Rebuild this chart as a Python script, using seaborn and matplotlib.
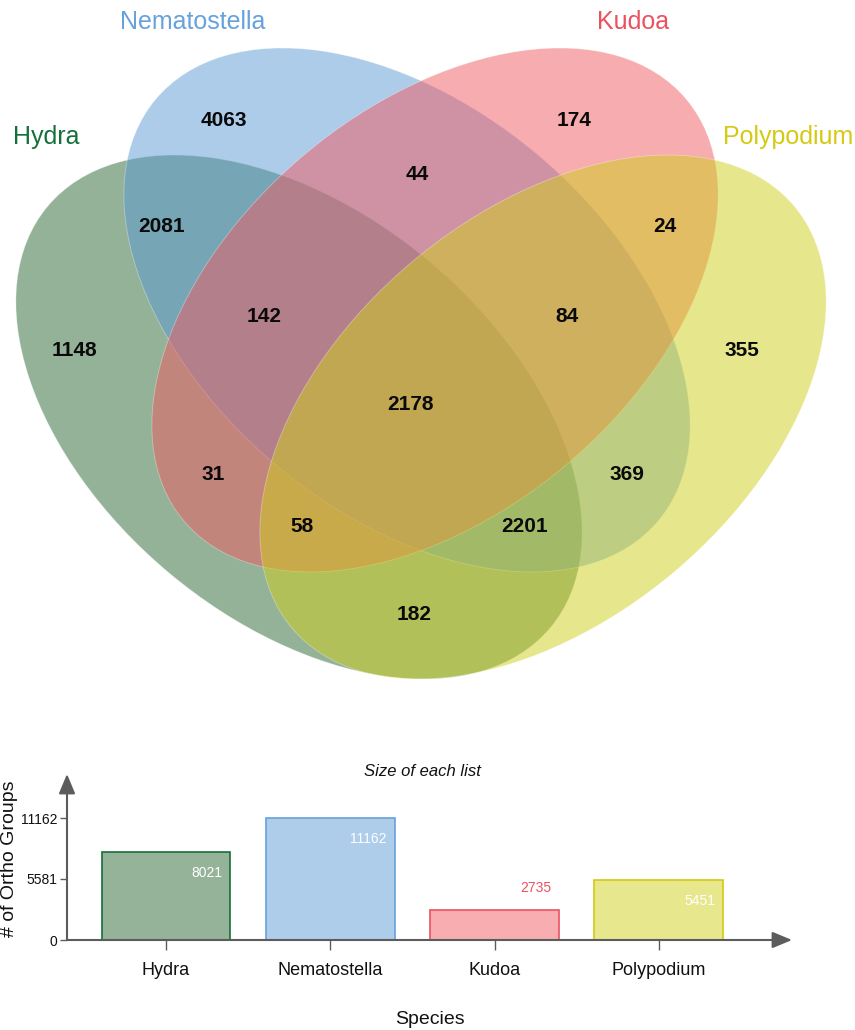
import numpy as np
import pandas as pd
import matplotlib
matplotlib.use("Agg")
import matplotlib.pyplot as plt
from matplotlib.patches import Ellipse
from matplotlib.colors import to_rgb
import seaborn as sns

# ---- data -------------------------------------------------------------
species = ["Hydra", "Nematostella", "Kudoa", "Polypodium"]
list_sizes = [8021, 11162, 2735, 5451]

# exclusive region counts, keyed by membership (H=Hydra, N=Nematostella, K=Kudoa, P=Polypodium)
region_keys = ["H", "N", "K", "P", "HN", "NK", "KP", "HK", "NP", "HP",
               "HNK", "NKP", "HKP", "HNP", "HNKP"]
region_counts = [1148, 4063, 174, 355, 2081, 44, 24, 31, 369, 182,
                 142, 84, 58, 2201, 2178]

y_ticks = [0, 5581, 11162]

# ---- style ------------------------------------------------------------
base_colors = ["#2a6732", "#5a9bd4", "#f15a60", "#cfcf1b"]
text_colors = ["#15703a", "#66a2db", "#ea5260", "#d4ca12"]
fill_alpha = 0.5

sns.set_theme(style="white")
plt.rcParams["font.family"] = ["Liberation Sans", "DejaVu Sans"]

W, H = 855, 1030
fig = plt.figure(figsize=(W / 100, H / 100), dpi=100)
fig.patch.set_facecolor("white")

# ---- Venn diagram (axes in pixel units, y downward) -------------------
ax_v = fig.add_axes([0, 0, 1, 1])
ax_v.set_xlim(0, W)
ax_v.set_ylim(H, 0)
ax_v.axis("off")

axis_x = 421
ell_w, ell_h, ell_ang = 656, 406, 40
ellipse_layout = [
    ((299, 417), ell_ang),                # Hydra
    ((407, 310), ell_ang),                # Nematostella
    ((2 * axis_x - 407, 310), -ell_ang),  # Kudoa
    ((2 * axis_x - 299, 417), -ell_ang),  # Polypodium
]
for (center, ang), col in zip(ellipse_layout, base_colors):
    r, g, b = to_rgb(col)
    ax_v.add_patch(Ellipse(center, ell_w, ell_h, angle=ang,
                           facecolor=(r, g, b, fill_alpha),
                           edgecolor=(1, 1, 1, 0.35), linewidth=0.6))

label_layout = {
    "H": (74, 350), "N": (224, 121), "K": (574, 121), "P": (742, 350),
    "HN": (162, 227), "NK": (417, 174), "KP": (665, 227),
    "HK": (213, 474), "NP": (627, 474), "HP": (414, 615),
    "HNK": (264, 316), "NKP": (567, 316), "HKP": (302, 527),
    "HNP": (525, 527), "HNKP": (410, 405),
}
for key, cnt in zip(region_keys, region_counts):
    x, y = label_layout[key]
    ax_v.text(x, y, str(cnt), ha="center", va="center",
              fontsize=15, fontweight="bold", color="#0a0a0a")

name_layout = [(46, 137), (193, 22), (633, 22), (788, 137)]
for name, (x, y), col in zip(species, name_layout, text_colors):
    ax_v.text(x, y, name, ha="center", va="center", fontsize=18, color=col)

# ---- bar chart of list sizes -----------------------------------------
bx0, bx1, by0, by1 = 67, 792, 940, 774
ax_b = fig.add_axes([bx0 / W, (H - by0) / H, (bx1 - bx0) / W, (by0 - by1) / H])

fill_colors = [tuple(np.array(to_rgb(c)) * fill_alpha + (1 - fill_alpha)) for c in base_colors]
df = pd.DataFrame({"Species": species, "Size": list_sizes})
bar_w = 0.785
sns.barplot(data=df, x="Species", y="Size", hue="Species", palette=fill_colors,
            saturation=1, width=bar_w, legend=False, ax=ax_b)
for patch, ec in zip(ax_b.patches, text_colors):
    patch.set_edgecolor(ec)
    patch.set_linewidth(1.2)

ax_b.set_xlim(-0.6026, 3.810)
ax_b.set_ylim(0, max(list_sizes) * 166 / 122)
ax_b.set_yticks(y_ticks)
ax_b.set_yticklabels([str(t) for t in y_ticks])
for s in ax_b.spines.values():
    s.set_visible(False)

axis_gray = "#5c5c5c"
ax_b.tick_params(axis="y", left=True, length=5, width=1, color=axis_gray,
                 labelsize=10, pad=2, labelcolor="#111111")
ax_b.tick_params(axis="x", bottom=True, length=7, width=1, color=axis_gray,
                 labelsize=13, pad=9, labelcolor="#111111")
ax_b.set_xlabel("Species", fontsize=14, labelpad=23, color="#111111")
ax_b.set_ylabel("")

arrow_kw = dict(arrowstyle="-|>,head_length=1.2,head_width=0.5", mutation_scale=10,
                color=axis_gray, lw=1.5, shrinkA=0, shrinkB=0)
ax_b.annotate("", xy=(0, 1), xycoords="axes fraction", xytext=(0, 0),
              textcoords="axes fraction", arrowprops=arrow_kw, annotation_clip=False)
ax_b.annotate("", xy=(1, 0), xycoords="axes fraction", xytext=(0, 0),
              textcoords="axes fraction", arrowprops=arrow_kw, annotation_clip=False)

for i, (v, ec) in enumerate(zip(list_sizes, text_colors)):
    inside = v > 0.3 * max(list_sizes)
    ax_b.annotate(str(v), xy=(i + bar_w / 2, v), xytext=(-8, -21 if inside else 22),
                  textcoords="offset pixels", ha="right", va="center", fontsize=10,
                  color="white" if inside else ec, annotation_clip=False)

fig.text(422 / W, 1 - 771 / H, "Size of each list", ha="center", va="center",
         fontsize=12, fontstyle="italic", color="#111111")
fig.text(10 / W, 1 - 859 / H, "# of Ortho Groups", rotation=90, ha="center",
         va="center", fontsize=14, color="#111111")

fig.savefig("out.png", dpi=100, facecolor="white")
